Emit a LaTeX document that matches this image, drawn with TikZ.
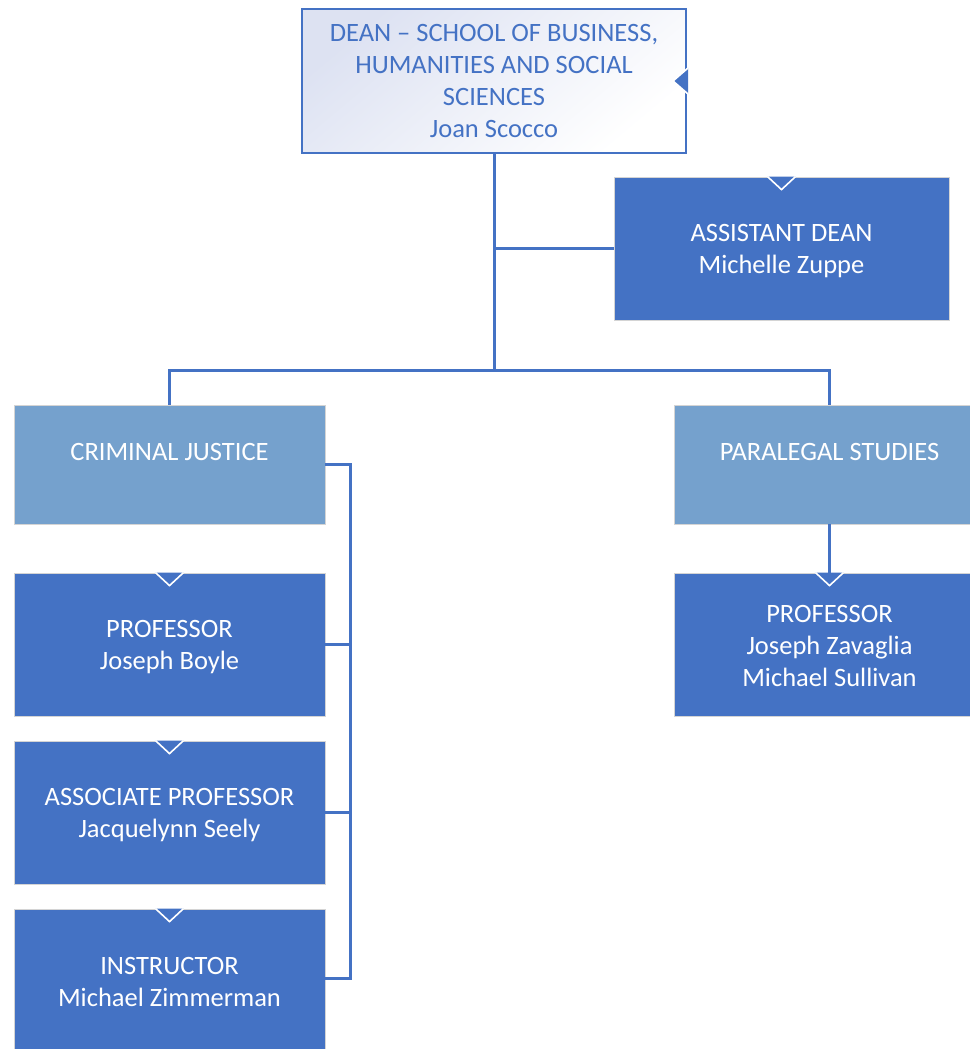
\documentclass[tikz,border=0pt]{standalone}
\usepackage{fontspec}
\setmainfont{Carlito}
\usetikzlibrary{calc}
\definecolor{bblue}{HTML}{4472C4}
\definecolor{lblue}{HTML}{75A1CD}
\definecolor{edgegray}{HTML}{D4D4D4}
\definecolor{lav}{HTML}{DDE2F2}
\tikzset{
  boxbase/.style={draw=edgegray, line width=0.8pt, inner sep=0pt},
  darkbox/.style={boxbase, fill=bblue, minimum width=311pt, minimum height=143pt},
  lightbox/.style={boxbase, fill=lblue, minimum width=311pt, minimum height=119pt},
  deanbox/.style={draw=bblue, line width=2pt, inner sep=0pt, text=bblue,
    font=\fontsize{26.5}{32}\selectfont, align=center,
    minimum width=384pt, minimum height=144pt,
    top color=lav, bottom color=white, shading angle=40},
  txt/.style={text=white, font=\fontsize{26.5}{32}\selectfont, align=center, inner sep=0pt},
  lbl/.style={text=white, font=\fontsize{26.5}{32}\selectfont, anchor=base, inner sep=0pt},
  conn/.style={draw=bblue, line width=3pt, line join=miter},
  notch/.style={fill=bblue, draw=white, line width=1.6pt, line join=miter},
}
\newcommand\topnotch[1]{\filldraw[notch] ($(#1.north)+(-14,0)$) -- ($(#1.north)+(0,13)$) -- ($(#1.north)+(14,0)$);}
\begin{document}
\begin{tikzpicture}[x=1pt,y=-1pt]
\useasboundingbox (0,0) rectangle (969,1049);
% boxes
\node[deanbox] (dean) at (494,81) {DEAN -- SCHOOL OF BUSINESS,\\HUMANITIES AND SOCIAL\\SCIENCES\\Joan Scocco};
\node[darkbox, minimum width=335pt] (asst) at (781.5,248.5) {};
\node[txt] (asstt) at ($(asst.center)+(0,3)$) {ASSISTANT DEAN\\Michelle Zuppe};
\node[lightbox] (cj) at (169.5,464.5) {};
\node[lbl] (cjl) at (169.5,460.5) {CRIMINAL JUSTICE};
\node[lightbox] (ps) at (829.5,464.5) {};
\node[lbl] (psl) at (829.5,460.5) {PARALEGAL STUDIES};
\node[darkbox] (p1) at (169.5,644.5) {};
\node[txt] (p1t) at ($(p1.center)+(0,3)$) {PROFESSOR\\Joseph Boyle};
\node[darkbox] (p2) at (169.5,812.5) {};
\node[txt] (p2t) at ($(p2.center)+(0,3)$) {ASSOCIATE PROFESSOR\\Jacquelynn Seely};
\node[darkbox] (p3) at (169.5,980.5) {};
\node[txt] (p3t) at ($(p3.center)+(0,1)$) {INSTRUCTOR\\Michael Zimmerman};
\node[darkbox] (p4) at (829.5,644.5) {};
\node[txt] (p4t) at ($(p4.center)+(0,1.5)$) {PROFESSOR\\Joseph Zavaglia\\Michael Sullivan};
% connectors
\coordinate (bar) at (494,370);
\draw[conn] (dean.south) -- (bar);
\draw[conn] (dean.south |- asst.west) -- (asst.west);
\draw[conn] (cj.north) |- (bar) -| (ps.north);
\coordinate (cjt) at ($(cj.east)+(25,0)$);
\draw[conn] (cj.east) -- (cjt) |- ($(p3.east)+(0,-2)$);
\draw[conn] (p1.east) -- (p1.east -| cjt);
\draw[conn] (p2.east) -- (p2.east -| cjt);
\draw[conn] (ps.south) -- ($(p4.north)+(0,10)$);
% notches
\filldraw[notch] ($(dean.east)+(1,-13)$) -- ($(dean.east)+(-14,0)$) -- ($(dean.east)+(1,13)$);
\topnotch{asst}
\topnotch{p1}
\topnotch{p2}
\topnotch{p3}
\topnotch{p4}
\end{tikzpicture}
\end{document}
